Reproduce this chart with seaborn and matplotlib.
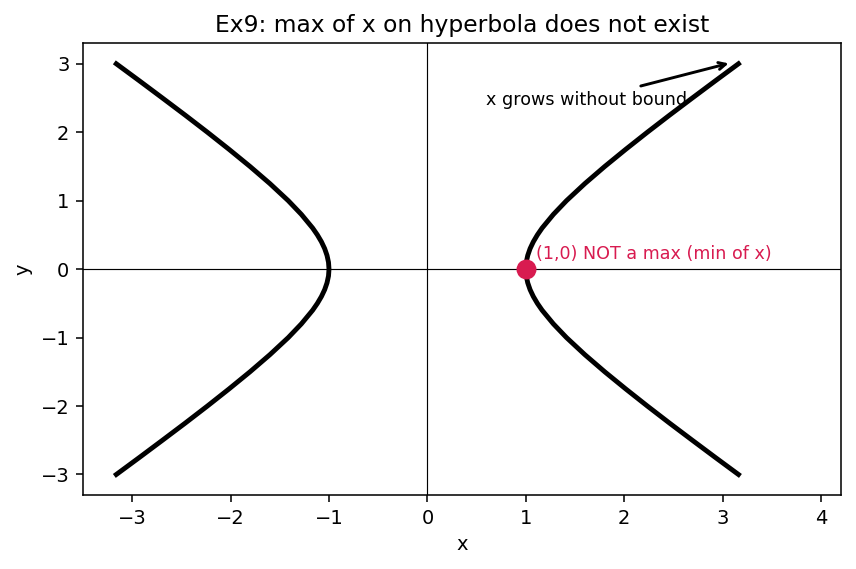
import numpy as np
import pandas as pd
import matplotlib
matplotlib.use('Agg')
import matplotlib.pyplot as plt
import seaborn as sns

## data: points on the hyperbola x^2 - y^2 = 1 (right branch)
y_pts = [-3.0, -2.75, -2.5, -2.25, -2.0, -1.75, -1.5, -1.25, -1.0, -0.8, -0.6, -0.5, -0.4, -0.3,
         -0.2, -0.1, 0.0, 0.1, 0.2, 0.3, 0.4, 0.5, 0.6, 0.8, 1.0, 1.25, 1.5, 1.75, 2.0, 2.25,
         2.5, 2.75, 3.0]
x_right = [3.162, 2.926, 2.693, 2.462, 2.236, 2.016, 1.803, 1.601, 1.414, 1.281, 1.166, 1.118,
           1.077, 1.044, 1.020, 1.005, 1.0, 1.005, 1.020, 1.044, 1.077, 1.118, 1.166, 1.281,
           1.414, 1.601, 1.803, 2.016, 2.236, 2.462, 2.693, 2.926, 3.162]
x_left = [-v for v in x_right]
vertex_x = [1.0]
vertex_y = [0.0]

right_df = pd.DataFrame({'x': x_right, 'y': y_pts})
left_df = pd.DataFrame({'x': x_left, 'y': y_pts})
vertex_df = pd.DataFrame({'x': vertex_x, 'y': vertex_y})

RED = '#d81b50'
DPI = 140
fig, ax = plt.subplots(figsize=(856 / DPI, 569 / DPI), dpi=DPI)
fig.subplots_adjust(left=0.097, right=0.982, top=0.924, bottom=0.130)

ax.axhline(0, color='black', lw=0.6)
ax.axvline(0, color='black', lw=0.6)

sns.lineplot(data=left_df, x='x', y='y', sort=False, estimator=None, color='black', lw=2.5, ax=ax)
sns.lineplot(data=right_df, x='x', y='y', sort=False, estimator=None, color='black', lw=2.5, ax=ax)
sns.scatterplot(data=vertex_df, x='x', y='y', color=RED, s=90, edgecolor=RED,
                zorder=5, ax=ax)

ax.text(1.1, 0.15, '(1,0) NOT a max (min of x)', color=RED, fontsize=9)
ax.annotate('x grows without bound', xy=(3.1, 3.02), xytext=(0.6, 2.4), fontsize=9,
            arrowprops=dict(arrowstyle='->', color='black', lw=1.5))

ax.set_xlim(-3.5, 4.2)
ax.set_ylim(-3.3, 3.3)
ax.set_xlabel('x')
ax.set_ylabel('y')
ax.set_title('Ex9: max of x on hyperbola does not exist')

plt.savefig('out.png', dpi=DPI)
